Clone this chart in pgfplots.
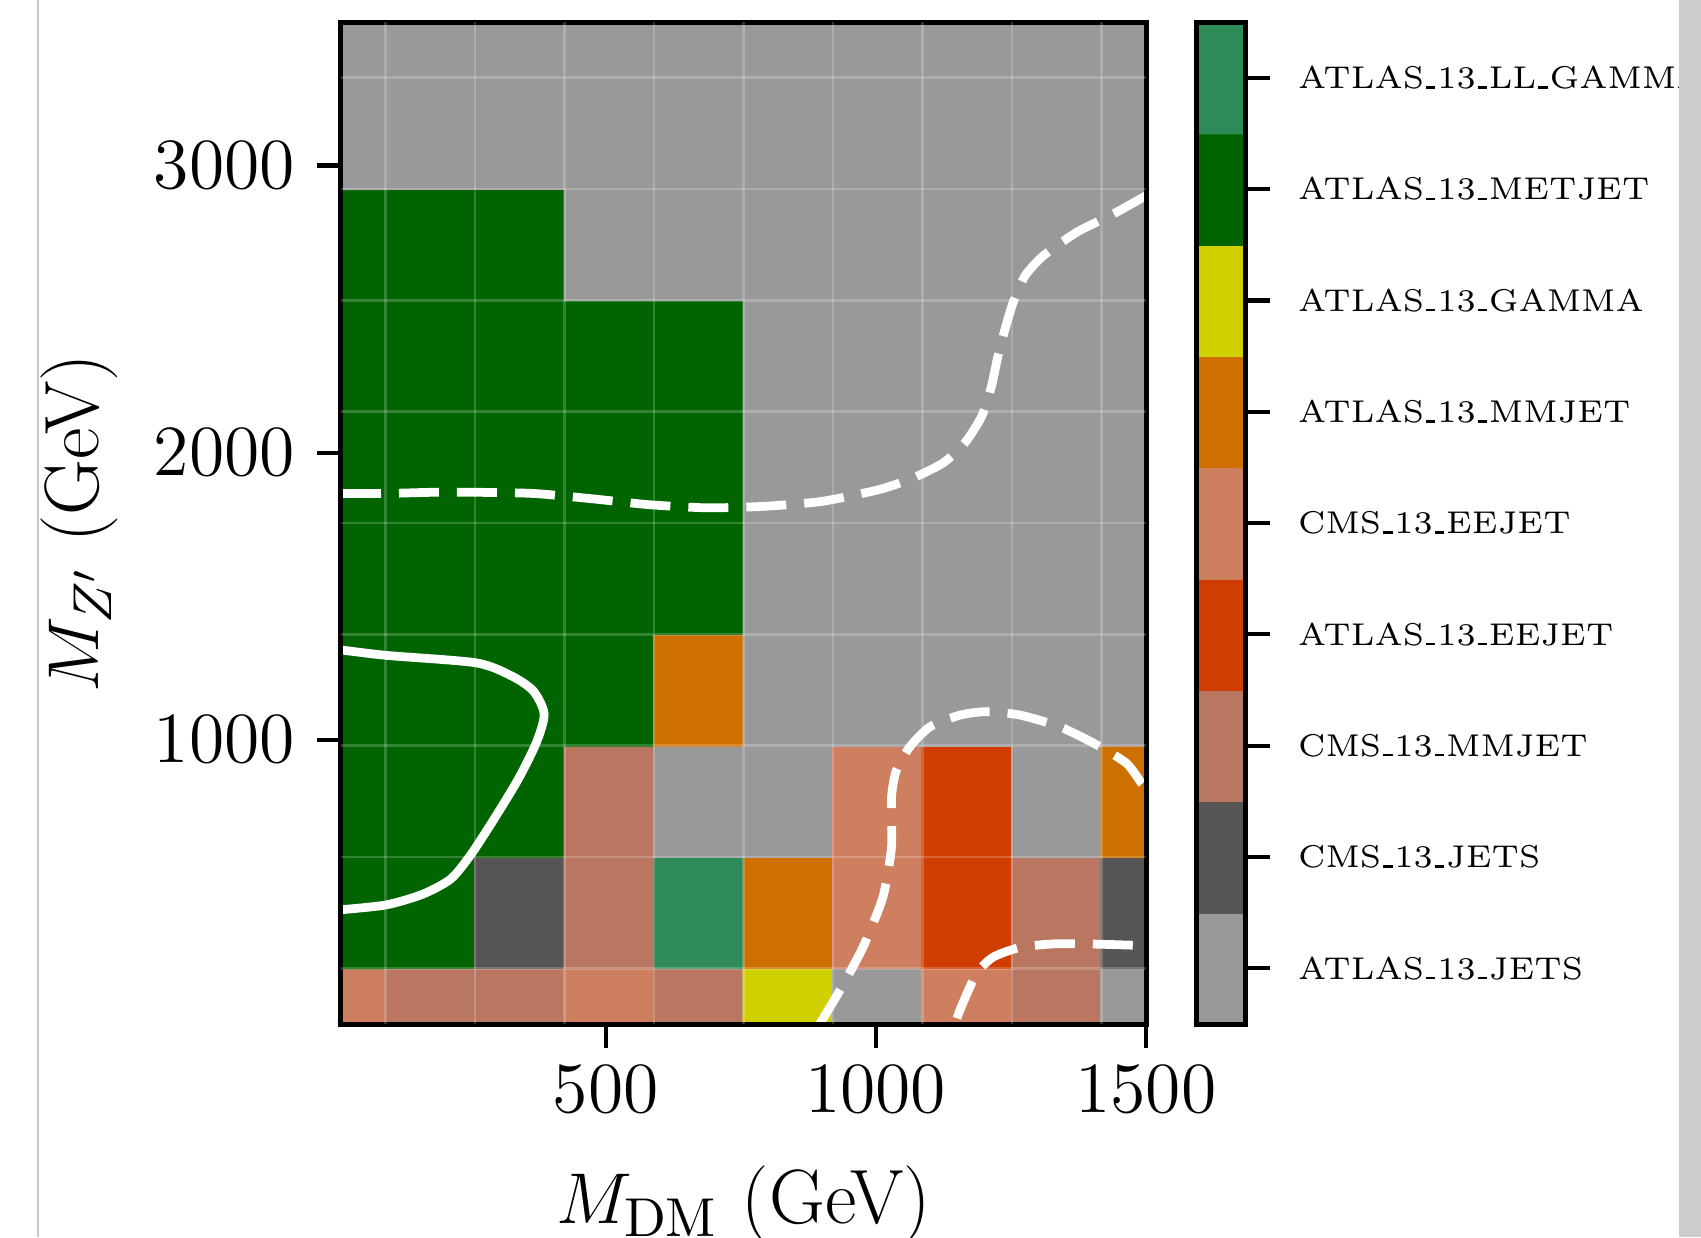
\documentclass[border=0pt]{standalone}
\usepackage{pgfplots}
\pgfplotsset{compat=1.18}

\pgfplotsset{
  cats/.style={
    colormap={cats}{
      rgb255=(153,153,153) rgb255=(85,85,85) rgb255=(185,119,98)
      rgb255=(207,61,0) rgb255=(205,127,96) rgb255=(206,112,0)
      rgb255=(208,208,0) rgb255=(0,100,0) rgb255=(46,139,87)},
    colormap access=direct,
  },
}

% dominant pool per grid point: 0 ATLAS_13_JETS ... 8 ATLAS_13_LL_GAMMA
\pgfplotstableread{
x y c
10 10 4
175.56 10 2
341.11 10 2
506.67 10 4
672.22 10 2
837.78 10 6
1003.33 10 0
1168.89 10 4
1334.44 10 2
1500 10 0
10 397.78 7
175.56 397.78 7
341.11 397.78 1
506.67 397.78 2
672.22 397.78 8
837.78 397.78 5
1003.33 397.78 4
1168.89 397.78 3
1334.44 397.78 2
1500 397.78 1
10 785.56 7
175.56 785.56 7
341.11 785.56 7
506.67 785.56 2
672.22 785.56 0
837.78 785.56 0
1003.33 785.56 4
1168.89 785.56 3
1334.44 785.56 0
1500 785.56 5
10 1173.33 7
175.56 1173.33 7
341.11 1173.33 7
506.67 1173.33 7
672.22 1173.33 5
837.78 1173.33 0
1003.33 1173.33 0
1168.89 1173.33 0
1334.44 1173.33 0
1500 1173.33 0
10 1561.11 7
175.56 1561.11 7
341.11 1561.11 7
506.67 1561.11 7
672.22 1561.11 7
837.78 1561.11 0
1003.33 1561.11 0
1168.89 1561.11 0
1334.44 1561.11 0
1500 1561.11 0
10 1948.89 7
175.56 1948.89 7
341.11 1948.89 7
506.67 1948.89 7
672.22 1948.89 7
837.78 1948.89 0
1003.33 1948.89 0
1168.89 1948.89 0
1334.44 1948.89 0
1500 1948.89 0
10 2336.67 7
175.56 2336.67 7
341.11 2336.67 7
506.67 2336.67 7
672.22 2336.67 7
837.78 2336.67 0
1003.33 2336.67 0
1168.89 2336.67 0
1334.44 2336.67 0
1500 2336.67 0
10 2724.44 7
175.56 2724.44 7
341.11 2724.44 7
506.67 2724.44 0
672.22 2724.44 0
837.78 2724.44 0
1003.33 2724.44 0
1168.89 2724.44 0
1334.44 2724.44 0
1500 2724.44 0
10 3112.22 0
175.56 3112.22 0
341.11 3112.22 0
506.67 3112.22 0
672.22 3112.22 0
837.78 3112.22 0
1003.33 3112.22 0
1168.89 3112.22 0
1334.44 3112.22 0
1500 3112.22 0
10 3500 0
175.56 3500 0
341.11 3500 0
506.67 3500 0
672.22 3500 0
837.78 3500 0
1003.33 3500 0
1168.89 3500 0
1334.44 3500 0
1500 3500 0
}\poolgrid

% colour bar cells, two columns so matrix plot accepts it
\pgfplotstableread{
x y c
-0.25 0 0
0.25 0 0
-0.25 1 1
0.25 1 1
-0.25 2 2
0.25 2 2
-0.25 3 3
0.25 3 3
-0.25 4 4
0.25 4 4
-0.25 5 5
0.25 5 5
-0.25 6 6
0.25 6 6
-0.25 7 7
0.25 7 7
-0.25 8 8
0.25 8 8
}\barcells

\newcommand{\tickfont}{\fontsize{13.8}{16}\selectfont}
\newcommand{\labfont}{\fontsize{15.4}{18}\selectfont}
\newcommand{\poolfont}{\fontsize{6.3}{7.5}\selectfont}
% old-style short underscore, as in the OT1 fonts
\newcommand{\us}{\kern.06em\vbox{\hrule width.3em height .075em}\kern.06em}

\begin{document}
\begin{tikzpicture}
\path[use as bounding box] (0,0) rectangle (340.2pt,247.4pt);
\draw[black!22, line width=0.4pt] (7.6pt,0) -- (7.6pt,247.4pt);

\begin{axis}[
  cats,
  at={(68.2pt,42.6pt)}, anchor=south west,
  scale only axis, width=161pt, height=200.4pt,
  xmin=10, xmax=1500, ymin=10, ymax=3500,
  axis on top,
  axis line style={line width=1pt},
  tick pos=left, tick align=outside,
  major tick length=4.8pt,
  every tick/.style={black, line width=0.85pt},
  xtick={500,1000,1500}, ytick={1000,2000,3000},
  ticklabel style={font=\tickfont},
  label style={font=\labfont},
  scaled ticks=false,
  xticklabel style={/pgf/number format/1000 sep={}},
  yticklabel style={/pgf/number format/1000 sep={}, xshift=-0.9pt},
  extra x ticks={92.8,258.3,423.9,589.4,755,920.6,1086.1,1251.7,1417.2},
  extra x tick labels={},
  extra y ticks={203.9,591.7,979.4,1367.2,1755,2142.8,2530.6,2918.3,3306.1},
  extra y tick labels={},
  extra tick style={grid=major, major tick length=0pt,
    grid style={white, opacity=0.2, line width=0.5pt}},
  xlabel={$M_{\mathrm{DM}}$ (GeV)},
  ylabel={$M_{Z'}$ (GeV)},
  xlabel style={at={(axis description cs:0.5,-0.18)}, anchor=center},
  ylabel style={at={(axis description cs:-0.325,0.5)}, anchor=center},
]
\addplot[matrix plot*, mesh/cols=10, point meta=explicit] table[meta=c] {\poolgrid};

% solid contour
\addplot[white, line width=1.75pt, smooth, tension=0.45] coordinates {
  (10,1313) (94,1294) (260,1268) (326,1222) (366,1170) (386,1090)
  (372,992) (339,866) (293,723) (250,599) (213,515) (161,462) (94,425) (10,408)};

% dashed contours
\addplot[white, line width=1.75pt, smooth, tension=0.4, dash pattern=on 8pt off 3.6pt] coordinates {
  (10,1858) (94,1858) (180,1862) (260,1862) (366,1858) (472,1840) (579,1819)
  (686,1808) (792,1813) (899,1830) (1005,1871) (1069,1912) (1125,1965)
  (1165,2035) (1196,2127) (1214,2232) (1226,2337) (1239,2430) (1254,2523)
  (1276,2616) (1310,2686) (1372,2768) (1439,2831) (1500,2895)};

\addplot[white, line width=1.75pt, smooth, tension=0.4, dash pattern=on 8pt off 3.6pt] coordinates {
  (896,10) (933,126) (976,277) (1013,452) (1029,627) (1029,801) (1038,894)
  (1063,976) (1100,1045) (1156,1086) (1205,1098) (1267,1086) (1341,1045)
  (1409,982) (1464,918) (1492,848) (1500,835)};

\addplot[white, line width=1.75pt, smooth, tension=0.4, dash pattern=on 8pt off 3.6pt] coordinates {
  (1150,30) (1159,74) (1186,185) (1217,243) (1267,277) (1328,289)
  (1390,289) (1450,286) (1500,283)};
\end{axis}

% colour bar
\begin{axis}[
  cats,
  at={(239.3pt,42.6pt)}, anchor=south west,
  scale only axis, width=9.8pt, height=200.4pt,
  xmin=-0.5, xmax=0.5, ymin=-0.5, ymax=8.5,
  axis on top,
  axis line style={line width=1pt},
  xtick=\empty,
  ytick={0,...,8},
  yticklabels={ATLAS\us13\us JETS, CMS\us13\us JETS, CMS\us13\us MMJET, ATLAS\us13\us EEJET,
    CMS\us13\us EEJET, ATLAS\us13\us MMJET, ATLAS\us13\us GAMMA, ATLAS\us13\us METJET,
    ATLAS\us13\us LL\us GAMMA},
  ytick pos=right, tick align=outside,
  major tick length=4.8pt,
  every tick/.style={black, line width=0.85pt},
  yticklabel style={font=\poolfont, anchor=west, xshift=2.2pt},
]
\addplot[matrix plot*, mesh/cols=2, point meta=explicit] table[meta=c] {\barcells};
\end{axis}

\fill[black!20] (335.8pt,0) rectangle (340.2pt,247.4pt);
\end{tikzpicture}
\end{document}
